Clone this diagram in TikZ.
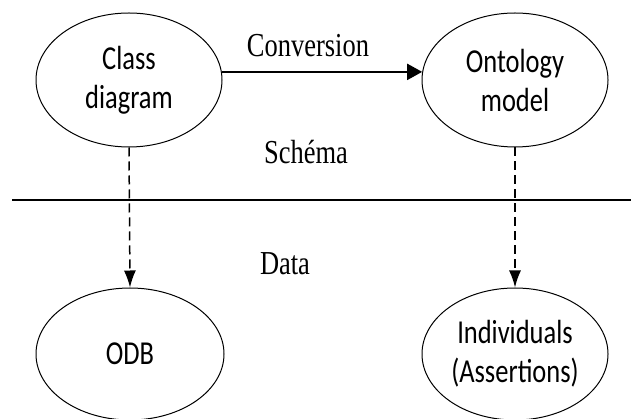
\documentclass[tikz,border=0pt]{standalone}
\usepackage{fontspec}
\usetikzlibrary{shapes.geometric,arrows.meta}
\newfontfamily\ellfont[FakeStretch=0.79]{Carlito}
\newfontfamily\labfont[FakeStretch=0.79]{Liberation Serif}
\tikzset{
  ell/.style={draw, line width=1pt, ellipse, inner sep=0pt, minimum width=186pt, minimum height=134pt,
    font=\ellfont\fontsize{33.5}{39}\selectfont, align=center},
  lab/.style={font=\labfont\fontsize{33.5}{38}\selectfont},
  conv/.style={line width=2pt, -{Triangle[length=15pt,width=16pt]}},
  dashedarrow/.style={line width=1.5pt, dash pattern=on 9pt off 5pt, -{Latex[length=17pt,width=12pt]}}
}
\begin{document}
\begin{tikzpicture}[x=1pt,y=-1pt]
\useasboundingbox (0,0) rectangle (631,419);
\node[ell] (cd) at (129,80) {Class\\diagram};
\node[ell] (om) at (515,80) {Ontology\\model};
\node[ell, minimum width=188pt, minimum height=132pt] (odb) at (130,354) {ODB};
\node[ell, minimum width=186pt, minimum height=132pt] (ind) at (515,354) {Individuals\\(Assertions)};
\coordinate (hl) at (12,200);
\coordinate (hr) at (631,200);
\draw[line width=2pt] (hl) -- (hr);
\draw[conv] (cd.5) -- (om.175);
\draw[dashedarrow] (cd.south) -- (odb.north);
\draw[dashedarrow] (om.south) -- (ind.north);
\node[lab] (conv) at (308,46) {Conversion};
\node[lab] (sch) at (306,152) {Schéma};
\node[lab] (data) at (285,264) {Data};
\end{tikzpicture}
\end{document}
